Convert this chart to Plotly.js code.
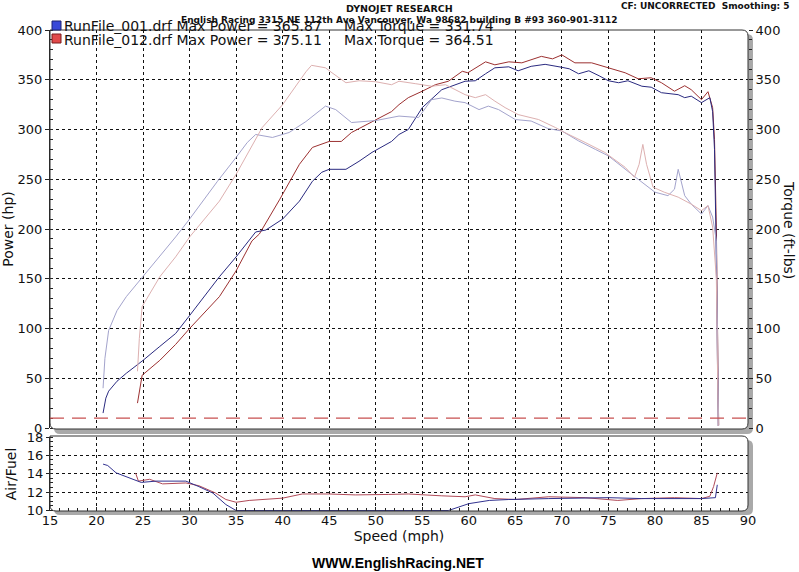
<!DOCTYPE html>
<html><head><meta charset="utf-8">
<script src="https://cdn.plot.ly/plotly-3.0.1.min.js"></script>
<style>html,body{margin:0;padding:0;background:#fff}#chart{width:799px;height:572px}</style>
</head><body><div id="chart"></div>
<script>
// ---- data ----
const pw1Speed = [20.7,21.0,21.3,22.2,23.2,25,26.8,28.5,30,31.6,33.2,35,36.4,37.1,38.2,40,41.8,43.2,44.2,45,46.8,48.2,49.6,51.7,52.5,53.5,55,57.1,59.6,60.7,61.8,62.8,64.3,65.3,66.7,68.2,70,70.8,71.8,72.9,74,75,76.1,77.1,78.6,79.6,80.7,81.5,82.5,83.2,83.9,85,85.9,86.2,86.4,86.55,86.7,86.8];
const pw1Hp    = [15,30,37,47,55,68,82,95,113,132,152,172,188,197,199,210,228,248,257,260,260,268,277,288,295,300,322,340,348.5,349,356,362,363,359,363.5,365.5,362.5,361,356,359,354,349,347,349,343.5,342.5,337,336,335,332,333.5,327,332,318,280,200,100,2];

const pw12Speed = [24.4,24.9,26.8,28.5,30,31.6,33.2,35,36.7,37.5,39.7,41.8,43.2,45,46.3,47.4,49.6,51.7,52.5,53.5,55,56.4,57.8,59.3,59.9,61.8,62.8,64.3,65.7,67.8,69,70,71.4,73.2,75,76.8,78.2,79.6,80.7,82.1,83.2,83.9,85,85.7,86.2,86.4,86.6,86.75,86.85];
const pw12Hp    = [25,53,68,84,100,116,132,158,188,195,230,265,282,288,288,297,308,318,325,332,338.5,345,348.5,358.5,357,368,365,368,367,373.5,371,375,367,367,362,357,351,352,347,338.5,344,340,330,338,322,290,200,100,3];

const tq1Speed = [20.7,20.9,21.3,22.2,23.2,25,26.8,28.5,30,31.4,33,35,36.2,37.1,38.9,40.7,42.5,44.6,45.7,47.4,48.5,50,52.5,54.6,56,57.1,58.5,59.6,61.1,62.1,63.2,65,66.7,68.5,70,71.8,73.6,75,77.5,78.9,80,81.4,82.1,82.5,82.9,83.2,83.9,85,85.7,86.2,86.6,86.75,86.85];
const tq1Ftlb  = [40,70,98,118,132,152,172,192,210,228,248,272,287,295,292,297,308,323.5,320,307,308,309,313.5,312,330,331.7,328.5,327,320,323.5,320,310,308.5,301,298.5,288.5,280,273.5,255,245,237,233.5,240,260,245,233.5,225,215,223.5,212,188,100,2];

const tq12Speed = [24.4,24.6,24.9,26.8,28.5,30,31.6,33.2,35,36.5,37.8,40,41,42.5,43.1,44.6,45.3,46.8,48.2,50,51.7,52.5,54.3,56,57.5,58.5,59.6,60.7,61.8,62.8,63.9,65.3,67.5,69.3,70.3,72.5,74.6,76.8,77.8,78.3,78.7,79.1,79.8,81,82.5,83.9,85,85.7,86.2,86.6,86.8];
const tq12Ftlb  = [57,90,122,152,172,192,210,228,255,280,302,325,338,358,364.5,362,357,347,349,348,345,348.5,346,343.5,345,340,335,332,335,328.5,322,315,310,302,297,287,277,262,252,265,285,265,242,237,232,225,218.5,223.5,202,150,2];

const af1Speed = [20.7,21.2,22.1,23.2,24.8,26.4,29.6,31,32.5,33.9,35,57.8,60,62.2,64.3,68.6,75,78.6,85,86.5,86.7];
const af1Ratio = [15.05,14.9,14.1,13.7,13.06,13.2,13.2,12.6,11.9,10.65,10.0,10.0,10.75,11.1,11.2,11.3,11.4,11.3,11.3,11.4,12.8];

const af12Speed = [24.2,24.5,25.7,27.1,29.6,31,32.8,33.9,35,36.4,40,42.1,45,47.8,51.4,53.5,57.1,59.6,60.7,62.8,65,68.6,72.5,76,78.6,82.1,85,85.9,86.3,86.7];
const af12Ratio = [14.07,13.2,13.4,12.9,13.0,12.7,11.9,11.2,10.9,11.1,11.35,11.8,11.8,11.7,11.75,11.8,11.6,11.5,11.7,11.3,11.2,11.5,11.4,11.1,11.3,11.4,11.3,11.55,12.6,14.1];

const refLevel = 10;
const powerTicks = [0,50,100,150,200,250,300,350,400];
const afTicks = [10,12,14,16,18];
const speedTicks = [15,20,25,30,35,40,45,50,55,60,65,70,75,80,85,90];

// ---- layout helpers (pixel -> paper) ----
const W = 799, H = 572, ML = 50, MR = 51, MT = 30, MB = 61;
const PW = W - ML - MR, PH = H - MT - MB;
const fx = p => (p - ML) / PW;
const fy = p => (H - MB - p) / PH;
const topDom = [fy(428), 1];
const botDom = [0, fy(437)];

function roundRect(x0, y0, x1, y1, r) {
  // rounded on right corners and bottom-left
  const P = (x, y) => fx(x) + ',' + fy(y);
  return 'M' + P(x0, y0) + ' L' + P(x1 - r, y0) + ' Q' + P(x1, y0) + ' ' + P(x1, y0 + r) +
    ' L' + P(x1, y1 - r) + ' Q' + P(x1, y1) + ' ' + P(x1 - r, y1) +
    ' L' + P(x0 + r, y1) + ' Q' + P(x0, y1) + ' ' + P(x0, y1 - r) + ' Z';
}

const FONT = 'DejaVu Sans, Verdana, sans-serif';
const line = (c, w) => ({color: c, width: w || 1});

const traces = [
  {x: tq1Speed, y: tq1Ftlb, xaxis: 'x', yaxis: 'y2', mode: 'lines', line: line('#a3a3cc'), name: 'Torque 001'},
  {x: tq12Speed, y: tq12Ftlb, xaxis: 'x', yaxis: 'y2', mode: 'lines', line: line('#ddb0b0'), name: 'Torque 012'},
  {x: pw12Speed, y: pw12Hp, xaxis: 'x', yaxis: 'y', mode: 'lines', line: line('#9c3030'), name: 'Power 012'},
  {x: pw1Speed, y: pw1Hp, xaxis: 'x', yaxis: 'y', mode: 'lines', line: line('#2a2a80'), name: 'Power 001'},
  {x: af12Speed, y: af12Ratio, xaxis: 'x2', yaxis: 'y3', mode: 'lines', line: line('#b04a58'), name: 'AF 012'},
  {x: af1Speed, y: af1Ratio, xaxis: 'x2', yaxis: 'y3', mode: 'lines', line: line('#323290'), name: 'AF 001'}
];

const gridCommon = {showgrid: true, gridcolor: '#111', griddash: 'dot', gridwidth: 1, zeroline: false};
const tickFont = {family: FONT, size: 13, color: '#111'};

const layout = {
  width: W, height: H,
  margin: {l: ML, r: MR, t: MT, b: MB, pad: 0},
  paper_bgcolor: '#fff', plot_bgcolor: 'rgba(0,0,0,0)',
  showlegend: false,
  xaxis: Object.assign({}, gridCommon, {domain: [0, 1], anchor: 'y', range: [15, 90], tickvals: speedTicks,
    showticklabels: false, ticks: '', showline: false}),
  yaxis: Object.assign({}, gridCommon, {domain: topDom, anchor: 'x', range: [0, 400], tickvals: powerTicks,
    tickfont: tickFont, ticks: 'outside', ticklen: 4, tickcolor: '#222', showline: true, linecolor: '#222',
    minor: {dtick: 10, ticks: 'inside', ticklen: 3, tickcolor: '#222', showgrid: false},
    title: {text: 'Power (hp)', font: {family: FONT, size: 14, color: '#111'}, standoff: 6}}),
  yaxis2: {domain: topDom, anchor: 'x', overlaying: 'y', side: 'right', range: [0, 400], tickvals: powerTicks,
    showgrid: false, zeroline: false, tickfont: tickFont, ticks: 'outside', ticklen: 4, tickcolor: '#222',
    minor: {dtick: 10, ticks: 'outside', ticklen: 3, tickcolor: '#222'}, showline: false},
  xaxis2: Object.assign({}, gridCommon, {domain: [0, 1], anchor: 'y3', range: [15, 90], tickvals: speedTicks,
    tickfont: tickFont, ticks: 'inside', ticklen: 4, tickcolor: '#222', showline: false,
    minor: {dtick: 1, ticks: 'inside', ticklen: 3, tickcolor: '#222', showgrid: false},
    title: {text: 'Speed (mph)', font: {family: FONT, size: 14, color: '#111'}, standoff: 4}}),
  yaxis3: Object.assign({}, gridCommon, {domain: botDom, anchor: 'x2', range: [9.95, 18], tickvals: afTicks,
    tickfont: tickFont, ticks: 'outside', ticklen: 3, tickcolor: '#222', showline: true, linecolor: '#222',
    minor: {dtick: 0.5, ticks: 'inside', ticklen: 3, tickcolor: '#222', showgrid: false},
    title: {text: 'Air/Fuel', font: {family: FONT, size: 14, color: '#111'}, standoff: 6}}),
  shapes: [
    // panel shadows and frames
    {type: 'path', xref: 'paper', yref: 'paper', layer: 'below', path: roundRect(54, 34, 753, 434, 6), fillcolor: '#a9a9a9', line: {width: 0}},
    {type: 'path', xref: 'paper', yref: 'paper', layer: 'below', path: roundRect(50, 30, 748, 429, 6), fillcolor: '#fff', line: {width: 0}},
    {type: 'path', xref: 'paper', yref: 'paper', layer: 'above', path: roundRect(50, 30, 748, 429, 6), fillcolor: 'rgba(0,0,0,0)', line: {color: '#333', width: 1}},
    {type: 'path', xref: 'paper', yref: 'paper', layer: 'below', path: roundRect(54, 440, 753, 515, 6), fillcolor: '#a9a9a9', line: {width: 0}},
    {type: 'path', xref: 'paper', yref: 'paper', layer: 'below', path: roundRect(50, 436, 748, 511, 6), fillcolor: '#fff', line: {width: 0}},
    {type: 'path', xref: 'paper', yref: 'paper', layer: 'above', path: roundRect(50, 436, 748, 511, 6), fillcolor: 'rgba(0,0,0,0)', line: {color: '#333', width: 1}},
    // reference dashed line
    {type: 'line', xref: 'paper', yref: 'y', x0: 0, x1: 1, y0: refLevel, y1: refLevel, layer: 'above',
      line: {color: '#c85050', width: 1.2, dash: '14px,8px'}},
    // legend squares
    {type: 'rect', xref: 'paper', yref: 'paper', x0: fx(52), x1: fx(61), y0: fy(30), y1: fy(21), fillcolor: '#3848d8', line: {color: '#1c2270', width: 1}},
    {type: 'rect', xref: 'paper', yref: 'paper', x0: fx(52), x1: fx(61), y0: fy(43), y1: fy(34), fillcolor: '#e24a4a', line: {color: '#7a1c1c', width: 1}}
  ],
  annotations: [
    {text: '<b>DYNOJET RESEARCH</b>', xref: 'paper', yref: 'paper', x: fx(399), y: fy(8), xanchor: 'center', yanchor: 'middle', showarrow: false,
      font: {family: FONT, size: 9.5, color: '#111'}},
    {text: '<b>English Racing 3315 NE 112th Ave Vancouver, Wa 98682 building B #93 360-901-3112</b>', xref: 'paper', yref: 'paper', x: fx(399), y: fy(20),
      xanchor: 'center', yanchor: 'middle', showarrow: false, font: {family: FONT, size: 9, color: '#111'}},
    {text: '<b>CF: UNCORRECTED  Smoothing: 5</b>', xref: 'paper', yref: 'paper', x: fx(792), y: fy(6), xanchor: 'right', yanchor: 'middle', showarrow: false,
      font: {family: FONT, size: 9, color: '#111'}},
    {text: 'RunFile_001.drf Max Power = 365.87', xref: 'paper', yref: 'paper', x: fx(62), y: fy(26), xanchor: 'left', yanchor: 'middle', showarrow: false,
      font: {family: FONT, size: 14, color: '#111'}},
    {text: 'Max Torque = 331.74', xref: 'paper', yref: 'paper', x: fx(342), y: fy(26), xanchor: 'left', yanchor: 'middle', showarrow: false,
      font: {family: FONT, size: 14, color: '#111'}},
    {text: 'RunFile_012.drf Max Power = 375.11', xref: 'paper', yref: 'paper', x: fx(62), y: fy(40), xanchor: 'left', yanchor: 'middle', showarrow: false,
      font: {family: FONT, size: 14, color: '#111'}},
    {text: 'Max Torque = 364.51', xref: 'paper', yref: 'paper', x: fx(342), y: fy(40), xanchor: 'left', yanchor: 'middle', showarrow: false,
      font: {family: FONT, size: 14, color: '#111'}},
    {text: 'Torque (ft-lbs)', xref: 'paper', yref: 'paper', x: fx(789), y: fy(230), xanchor: 'center', yanchor: 'middle', textangle: 90, showarrow: false,
      font: {family: FONT, size: 14, color: '#111'}},
    {text: '<b>WWW.EnglishRacing.NET</b>', xref: 'paper', yref: 'paper', x: fx(398), y: fy(563), xanchor: 'center', yanchor: 'middle', showarrow: false,
      font: {family: 'Liberation Sans, Arial, sans-serif', size: 14, color: '#000'}}
  ]
};

Plotly.newPlot('chart', traces, layout, {staticPlot: true, displayModeBar: false});
</script>
</body></html>
